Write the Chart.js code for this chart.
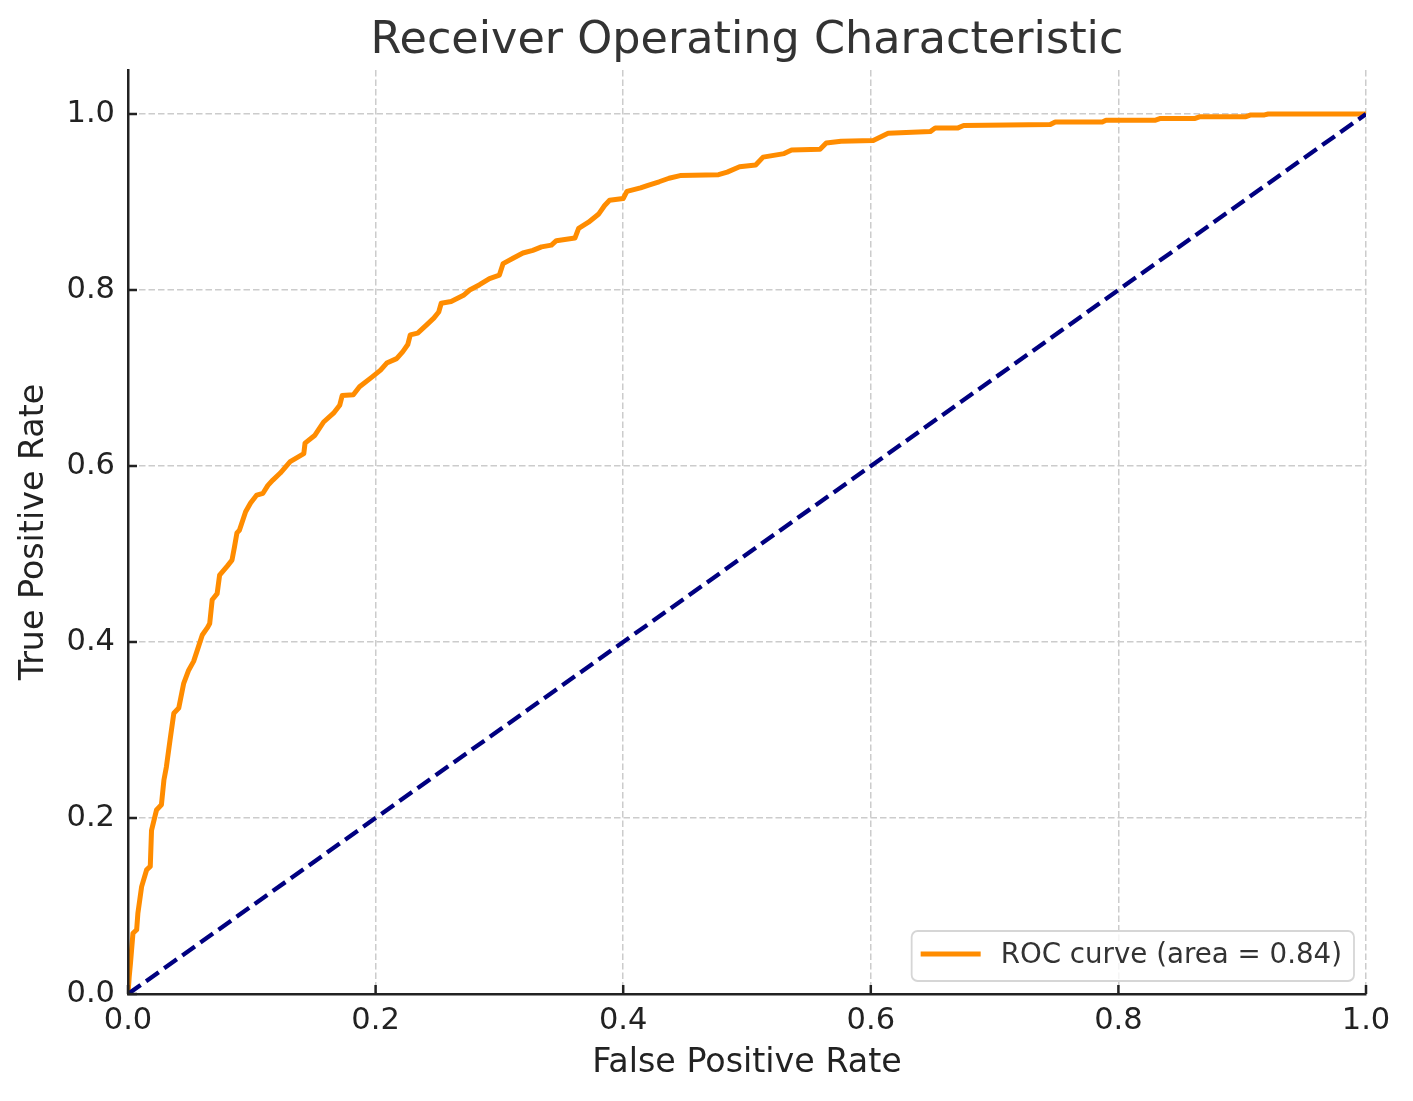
<!DOCTYPE html>
<html>
<head>
<meta charset="utf-8">
<script src="https://cdn.jsdelivr.net/npm/chart.js@4.4.0/dist/chart.umd.min.js"></script>
<style>
html,body{margin:0;padding:0;background:#ffffff;}
#wrap{width:1413px;height:1101px;}
</style>
</head>
<body>
<div id="wrap"><canvas id="c" width="1413" height="1101"></canvas></div>
<script>
// ROC curve points
const fpr = [0, 0.001, 0.002, 0.004, 0.007, 0.008, 0.011, 0.015, 0.018, 0.019, 0.023, 0.027, 0.029, 0.031, 0.034, 0.037, 0.041, 0.045, 0.049, 0.053, 0.057, 0.060, 0.064, 0.066, 0.068, 0.072, 0.074, 0.080, 0.084, 0.086, 0.088, 0.090, 0.095, 0.099, 0.104, 0.109, 0.113, 0.117, 0.123, 0.131, 0.142, 0.143, 0.151, 0.158, 0.166, 0.171, 0.173, 0.182, 0.187, 0.197, 0.204, 0.209, 0.217, 0.222, 0.226, 0.228, 0.234, 0.241, 0.247, 0.251, 0.253, 0.261, 0.271, 0.276, 0.284, 0.292, 0.300, 0.303, 0.311, 0.319, 0.327, 0.334, 0.342, 0.346, 0.361, 0.364, 0.372, 0.380, 0.385, 0.389, 0.400, 0.403, 0.414, 0.420, 0.429, 0.437, 0.446, 0.477, 0.484, 0.494, 0.507, 0.513, 0.530, 0.536, 0.559, 0.564, 0.576, 0.602, 0.614, 0.648, 0.652, 0.670, 0.675, 0.745, 0.749, 0.787, 0.790, 0.830, 0.834, 0.862, 0.866, 0.903, 0.907, 0.918, 0.921, 1.0];
const tpr = [0, 0.02, 0.035, 0.069, 0.073, 0.092, 0.122, 0.141, 0.145, 0.186, 0.209, 0.215, 0.243, 0.258, 0.289, 0.319, 0.325, 0.353, 0.368, 0.378, 0.395, 0.408, 0.416, 0.421, 0.448, 0.455, 0.476, 0.486, 0.493, 0.508, 0.524, 0.527, 0.548, 0.558, 0.567, 0.569, 0.578, 0.584, 0.592, 0.605, 0.614, 0.626, 0.635, 0.650, 0.660, 0.669, 0.680, 0.681, 0.690, 0.701, 0.709, 0.717, 0.722, 0.730, 0.738, 0.749, 0.751, 0.760, 0.768, 0.775, 0.785, 0.787, 0.794, 0.800, 0.806, 0.813, 0.817, 0.830, 0.836, 0.842, 0.845, 0.849, 0.851, 0.856, 0.859, 0.870, 0.877, 0.886, 0.896, 0.902, 0.904, 0.912, 0.916, 0.919, 0.923, 0.927, 0.930, 0.931, 0.934, 0.940, 0.942, 0.951, 0.955, 0.959, 0.960, 0.967, 0.969, 0.970, 0.978, 0.980, 0.984, 0.984, 0.987, 0.988, 0.991, 0.991, 0.993, 0.993, 0.995, 0.995, 0.997, 0.997, 0.999, 0.999, 1.0, 1.0];
// chance diagonal
const diagX = [0, 1];
const diagY = [0, 1];
// ticks
const xTicks = [0, 0.2, 0.4, 0.6, 0.8, 1.0];
const yTicks = [0, 0.2, 0.4, 0.6, 0.8, 1.0];
const rocLabel = 'ROC curve (area = 0.84)';
const titleText = 'Receiver Operating Characteristic';
const xLabel = 'False Positive Rate';
const yLabel = 'True Positive Rate';

const FONT = "'DejaVu Sans', sans-serif";
const ORANGE = '#ff8c00';
const NAVY = '#000080';

const rocPoints = fpr.map((v, i) => ({x: v, y: tpr[i]}));
const diagPoints = diagX.map((v, i) => ({x: v, y: diagY[i]}));

const innerTicks = {
  id: 'innerTicks',
  afterDatasetsDraw(chart) {
    const {ctx, chartArea: ca, scales: {x, y}} = chart;
    ctx.save();
    ctx.strokeStyle = '#222222';
    ctx.lineWidth = 2.5;
    ctx.beginPath();
    x.ticks.forEach(t => {
      const px = x.getPixelForValue(t.value);
      ctx.moveTo(px, ca.bottom);
      ctx.lineTo(px, ca.bottom - 9);
    });
    y.ticks.forEach(t => {
      const py = y.getPixelForValue(t.value);
      ctx.moveTo(ca.left, py);
      ctx.lineTo(ca.left + 9, py);
    });
    ctx.stroke();
    ctx.restore();
  }
};

const innerLegend = {
  id: 'innerLegend',
  afterDraw(chart) {
    const {ctx, chartArea: ca} = chart;
    const ds = chart.data.datasets.find(d => d.showInLegend);
    ctx.save();
    ctx.font = '27.7px ' + FONT;
    const tw = ctx.measureText(ds.label).width;
    const padL = 9, lineLen = 60, gap = 20, padR = 12, h = 50;
    const w = padL + lineLen + gap + tw + padR;
    const right = ca.right - 12;
    const bottom = ca.bottom - 13;
    const left = right - w;
    const top = bottom - h;
    ctx.beginPath();
    ctx.roundRect(left, top, w, h, 6);
    ctx.fillStyle = 'rgba(255,255,255,0.8)';
    ctx.fill();
    ctx.lineWidth = 1.8;
    ctx.strokeStyle = '#d6d6d6';
    ctx.stroke();
    const cy = top + h / 2;
    ctx.beginPath();
    ctx.moveTo(left + padL, cy - 2);
    ctx.lineTo(left + padL + lineLen, cy - 2);
    ctx.strokeStyle = ds.borderColor;
    ctx.lineWidth = ds.borderWidth;
    ctx.stroke();
    ctx.fillStyle = '#333333';
    ctx.textBaseline = 'middle';
    ctx.textAlign = 'left';
    ctx.fillText(ds.label, left + padL + lineLen + gap, cy);
    ctx.restore();
  }
};

new Chart(document.getElementById('c'), {
  type: 'scatter',
  data: {
    datasets: [
      {
        label: 'chance',
        data: diagPoints,
        showLine: true,
        borderColor: NAVY,
        borderWidth: 4.3,
        borderDash: [15.5, 6.7],
        pointRadius: 0,
        fill: false,
        order: 0
      },
      {
        label: rocLabel,
        showInLegend: true,
        data: rocPoints,
        showLine: true,
        borderColor: ORANGE,
        borderWidth: 5,
        borderJoinStyle: 'round',
        borderCapStyle: 'butt',
        pointRadius: 0,
        fill: false,
        order: 1
      }
    ]
  },
  options: {
    responsive: false,
    animation: false,
    devicePixelRatio: 1,
    layout: {padding: {left: 0, right: 47, top: 0, bottom: 0}},
    plugins: {
      legend: {display: false},
      tooltip: {enabled: false},
      title: {
        display: true,
        text: titleText,
        fullSize: false,
        color: '#333333',
        font: {family: FONT, size: 44.5, weight: 'normal', lineHeight: 1.2},
        padding: {top: 14.5, bottom: 2.1}
      }
    },
    scales: {
      x: {
        type: 'linear',
        min: 0,
        max: 1,
        afterBuildTicks: s => { s.ticks = xTicks.map(v => ({value: v})); },
        afterFit: s => { s.height = 107; },
        ticks: {
          color: '#222222',
          font: {family: FONT, size: 30.5},
          padding: 9,
          maxRotation: 0,
          callback: v => Number(v).toFixed(1)
        },
        grid: {color: '#cccccc', lineWidth: 1.5, drawTicks: false},
        border: {display: true, color: '#222222', width: 2.5, dash: [6.5, 3], z: 1},
        title: {
          display: true,
          text: xLabel,
          color: '#222222',
          font: {family: FONT, size: 33.3, lineHeight: 1.2},
          padding: {top: 0, bottom: 18}
        }
      },
      y: {
        type: 'linear',
        min: 0,
        max: 1.05,
        afterBuildTicks: s => { s.ticks = yTicks.map(v => ({value: v})); },
        afterFit: s => { s.width = 128; },
        ticks: {
          color: '#222222',
          font: {family: FONT, size: 30.5},
          padding: 13,
          callback: v => Number(v).toFixed(1)
        },
        grid: {color: '#cccccc', lineWidth: 1.5, drawTicks: false},
        border: {display: true, color: '#222222', width: 2.5, dash: [6.5, 3], z: 1},
        title: {
          display: true,
          text: yLabel,
          color: '#222222',
          font: {family: FONT, size: 33.3, lineHeight: 1.2},
          padding: {top: 14, bottom: 0}
        }
      }
    }
  },
  plugins: [innerTicks, innerLegend]
});
</script>
</body>
</html>
